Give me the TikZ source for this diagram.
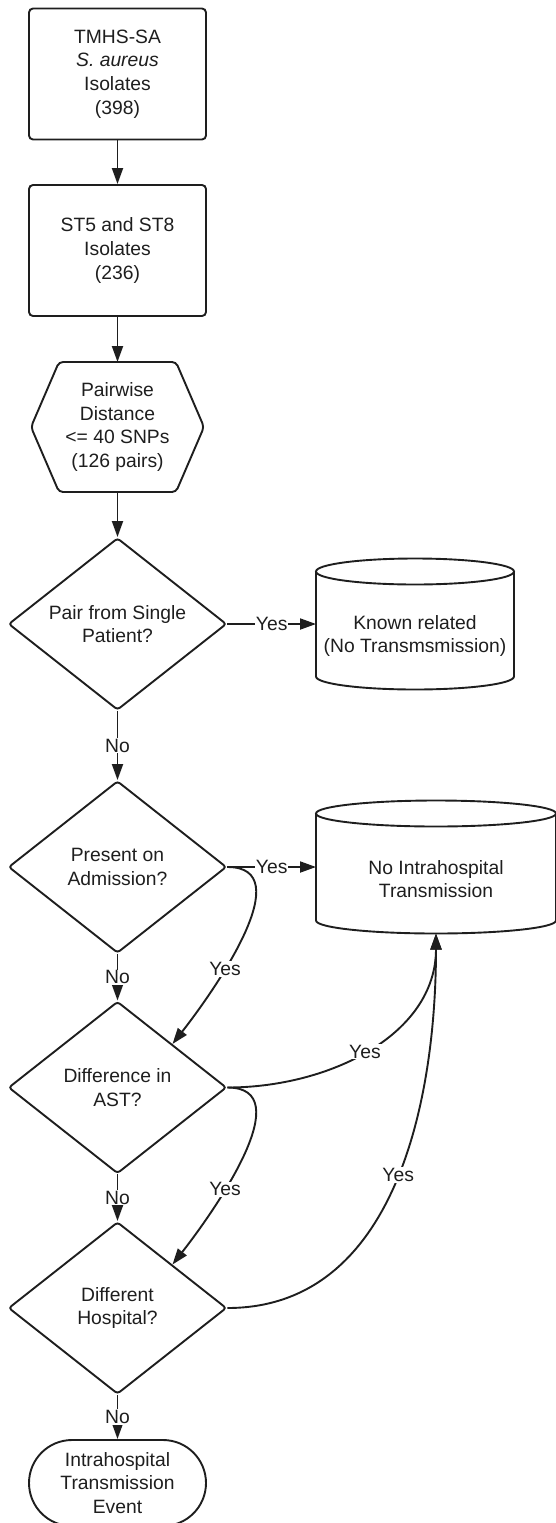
\documentclass[tikz,border=0pt]{standalone}
\usepackage{fontspec}
\setmainfont{Liberation Sans}
\usetikzlibrary{arrows.meta,shapes.geometric}
\definecolor{ink}{HTML}{1E1E1E}

\begin{document}
\begin{tikzpicture}[>={Triangle[length=16pt,width=11pt]},x=1pt,y=-1pt]
	
	% ------------------------------------------------------------
	% Styles (plain black outline flow chart)
	% ------------------------------------------------------------
	\tikzset{
		every node/.style={text=ink,font=\fontsize{19.3}{23.8}\selectfont,align=center},
		proc/.style={draw=ink,line width=1.9pt,rounded corners=4pt,
			minimum width=177pt,minimum height=131pt},
		decide/.style={diamond,draw=ink,line width=1.9pt,rounded corners=3pt,
			inner sep=0pt,aspect=1.27,minimum width=218pt,minimum height=172pt},
		term/.style={draw=ink,line width=1.9pt,rounded corners=43pt,
			minimum width=177pt,minimum height=86pt},
		holder/.style={inner sep=0pt,outer sep=0pt},
		outline/.style={draw=ink,line width=1.9pt},
		flow/.style={->,draw=ink,line width=1.9pt},
		lbl/.style={fill=white,inner sep=1pt}
	}
	
	\useasboundingbox (0,0) rectangle (556,1523);
	
	% ============================================================
	% Main column
	% ============================================================
	\node[proc] (iso) at (117.5,74) {TMHS-SA\\\textit{S. aureus}\\Isolates\\(398)};
	\node[proc] (st) at (117.5,250.5) {ST5 and ST8\\Isolates\\(236)};
	
	% hexagon (drawn round a holder node)
	\node[holder,minimum width=173pt,minimum height=130pt] (pw) at (117.5,427)
	{Pairwise\\Distance\\<= 40 SNPs\\(126 pairs)};
	\draw[outline,rounded corners=4pt] (pw.west) -- ([xshift=28pt]pw.north west)
	-- ([xshift=-28pt]pw.north east) -- (pw.east)
	-- ([xshift=-28pt]pw.south east) -- ([xshift=28pt]pw.south west) -- cycle;
	
	% decisions
	\node[decide] (pair) at (117.5,624) {Pair from Single\\Patient?};
	\node[decide] (adm)  at (117.5,867) {Present on\\Admission?};
	\node[decide] (ast)  at (117.5,1087.5) {Difference in\\AST?};
	\node[decide] (hosp) at (117.5,1308) {Different\\Hospital?};
	
	% end point (runs off the bottom edge)
	\node[term] (event) at (117.5,1483) {Intrahospital\\Transmission\\Event};
	
	% ============================================================
	% Stores on the right: cylinders round holder nodes
	% ============================================================
	\node[holder,minimum width=198pt,minimum height=131pt] (known) at (415,624) {};
	\draw[outline] ([yshift=-13pt]known.north west) -- ([yshift=13pt]known.south west)
	arc[start angle=180,end angle=360,x radius=99pt,y radius=13pt]
	-- ([yshift=-13pt]known.north east);
	\draw[outline] ([yshift=-13pt]known.north) ellipse[x radius=99pt,y radius=13pt];
	\node (knowntext) at ([yshift=-12pt]known.center) {Known related\\(No Transmsmission)};
	
	\node[holder,minimum width=240pt,minimum height=133pt] (nointra) at (436,867) {};
	\draw[outline] ([yshift=-13pt]nointra.north west) -- ([yshift=13pt]nointra.south west)
	arc[start angle=180,end angle=360,x radius=120pt,y radius=13pt]
	-- ([yshift=-13pt]nointra.north east);
	\draw[outline] ([yshift=-13pt]nointra.north) ellipse[x radius=120pt,y radius=13pt];
	\node (nointratext) at ([yshift=-12pt]nointra.center) {No Intrahospital\\Transmission};
	
	% ============================================================
	% Connectors
	% ============================================================
	\draw[flow] (iso) -- (st);
	\draw[flow] (st) -- (pw);
	\draw[flow] (pw) -- (pair);
	\draw[flow] (pair) -- node[lbl] {No} (adm);
	\draw[flow] (adm) -- node[lbl] {No} (ast);
	\draw[flow] (ast) -- node[lbl] {No} (hosp);
	\draw[flow] (hosp) -- node[lbl] {No} (event);
	
	\draw[flow] (pair) -- node[lbl] {Yes} (known);
	\draw[flow] (adm) -- node[lbl] {Yes} (nointra);
	
	% Yes branches that skip down or back up
	\draw[flow] (adm.east) to[out=0,in=52] node[lbl,pos=0.65] {Yes} (ast.north east);
	\draw[flow] (ast.east) to[out=0,in=52] node[lbl,pos=0.65] {Yes} (hosp.north east);
	\draw[flow] (ast.east) to[out=0,in=-90] node[lbl,pos=0.48] {Yes} (nointra.south);
	\draw[flow] (hosp.east) to[out=0,in=-90] node[lbl,pos=0.52] {Yes} (nointra.south);
	
\end{tikzpicture}
\end{document}
